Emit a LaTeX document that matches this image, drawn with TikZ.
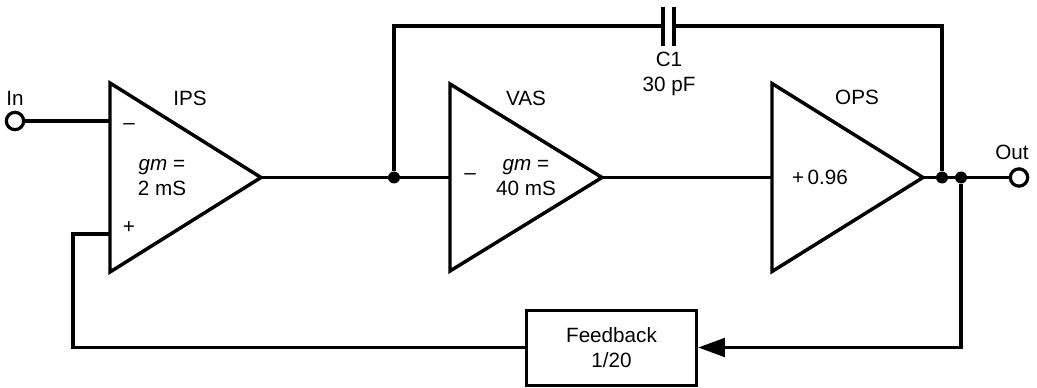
\documentclass[tikz,border=0pt]{standalone}
\usepackage{fontspec}
\setmainfont{Liberation Sans}
\usetikzlibrary{arrows.meta, positioning, shapes.geometric}
\tikzset{
  amp/.style={draw, isosceles triangle, isosceles triangle stretches, isosceles triangle apex angle=60,
    inner sep=0pt, outer sep=0pt, line width=2.6pt, miter limit=10, anchor=lower side},
  wire/.style={line width=2.4pt},
  joint/.style={circle, fill=black, inner sep=0pt, minimum size=9pt},
  term/.style={circle, draw, fill=white, line width=2.4pt, inner sep=0pt, minimum size=13pt},
  lbl/.style={align=center, inner sep=0pt}
}
\begin{document}
\begin{tikzpicture}[x=0.75pt, y=-0.75pt, >=Triangle,
    font=\fontsize{15.5}{18.75}\selectfont]
  \useasboundingbox (0,0) rectangle (1037,388);
  % amplifiers
  \node[amp, minimum height=113.25pt, minimum width=141.75pt] (ips) at (110,177.5) {};
  \node[amp, minimum height=114pt, minimum width=140.25pt] (vas) at (450,177.5) {};
  \node[amp, minimum height=113.25pt, minimum width=141pt] (ops) at (772,177.5) {};
  % terminals and joints
  \node[term] (in) at (15,121) {};
  \node[term] (out) at (1019,177.5) {};
  \node[joint] (ja) at (394,177.5) {};
  \node[joint] (jb) at (942,177.5) {};
  \node[joint] (jc) at (961,177.5) {};
  \node[draw, line width=2.6pt, minimum width=127.5pt, minimum height=56.25pt, lbl] (fb) at (611.5,348) {Feedback\\1/20};
  % helper points
  \coordinate (inm) at (110,121);
  \coordinate (inp) at (110,234);
  \coordinate (corner) at (73,234);
  \coordinate (low) at (73,347.5);
  \coordinate (topl) at (394,26);
  \coordinate (topr) at (942,26);
  \coordinate (capa) at (663,26);
  \coordinate (capb) at (674,26);
  \coordinate (drop) at (961,347.5);
  % wires
  \draw[wire] (in) -- (inm);
  \draw[wire] (ips.apex) -- (ja) -- (vas.lower side);
  \draw[wire] (vas.apex) -- (ops.lower side);
  \draw[wire] (ops.apex) -- (jb) -- (jc) -- (out);
  \draw[wire] (ja) -- (topl) -- (capa);
  \draw[wire] (capb) -- (topr) -- (jb);
  \draw[wire] (inp) -- (corner) -- (low) -- (low -| fb.west);
  \draw[wire, -{Triangle[length=20pt, width=14pt]}] (jc) -- (drop) -- (drop -| fb.east);
  % capacitor
  \draw[wire] (663,7) -- (663,46);
  \draw[wire] (674,7) -- (674,46);
  % labels
  \node[lbl] (inl) at (15,98) {In};
  \node[lbl] (outl) at (1012,152) {Out};
  \node[lbl] (ipsl) at (190,98) {IPS};
  \node[lbl] (vasl) at (526,98) {VAS};
  \node[lbl] (opsl) at (857,97) {OPS};
  \node[lbl] (ipsm) at (129,127) {–};
  \node[lbl] (ipsp) at (129,228) {+};
  \node[lbl] (ipsg) at (162,178) {\textit{gm} =\\2 mS};
  \node[lbl] (vasm) at (470,177) {–};
  \node[lbl] (vasg) at (526,178) {\textit{gm} =\\40 mS};
  \node[lbl] (opsg) at (820,177) {+\,0.96};
  \node[lbl] (capl) at (669,73.5) {C1\\30 pF};
\end{tikzpicture}
\end{document}
